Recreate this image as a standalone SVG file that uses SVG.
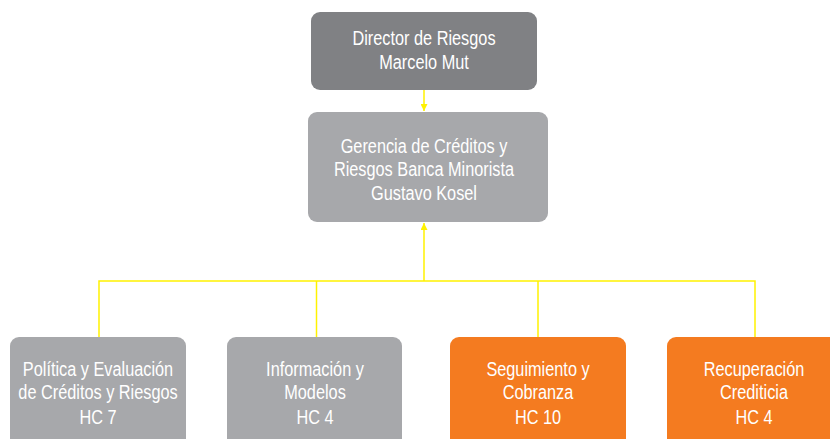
<svg xmlns="http://www.w3.org/2000/svg" width="830" height="439" viewBox="0 0 830 439">
<defs>
<style>
.t{font-family:"Liberation Sans",Arial,sans-serif;font-size:20px;fill:#ffffff;text-anchor:middle}
.c{stroke:#fff200;stroke-width:1.5;fill:none}
</style>
<marker id="ah" viewBox="0 0 10 10" refX="10" refY="5" markerWidth="7" markerHeight="7" markerUnits="userSpaceOnUse" orient="auto">
<path d="M0,0 L10,5 L0,10 Z" fill="#fff200"/>
</marker>
</defs>
<rect width="830" height="439" fill="#ffffff"/>
<g id="connectors">
<line class="c" x1="424" y1="90" x2="424" y2="111" marker-end="url(#ah)"/>
<line class="c" x1="424" y1="281" x2="424" y2="223" marker-end="url(#ah)"/>
<polyline class="c" points="99,337 99,281 755,281 755,337"/>
<line class="c" x1="316.5" y1="281" x2="316.5" y2="337"/>
<line class="c" x1="538" y1="281" x2="538" y2="337"/>
</g>
<g id="director">
<rect x="311" y="12" width="226" height="78" rx="9" fill="#808184"/>
<g transform="translate(424,0) scale(0.815,1)">
<text class="t" x="0" y="45">Director de Riesgos</text>
<text class="t" x="0" y="69">Marcelo Mut</text>
</g>
</g>
<g id="gerencia">
<rect x="308" y="112" width="240" height="110" rx="9" fill="#a7a8ab"/>
<g transform="translate(424,0) scale(0.815,1)">
<text class="t" x="0" y="153">Gerencia de Créditos y</text>
<text class="t" x="0" y="176">Riesgos Banca Minorista</text>
<text class="t" x="0" y="200">Gustavo Kosel</text>
</g>
</g>
<g id="politica">
<rect x="10" y="337" width="176" height="115" rx="9" fill="#a7a8ab"/>
<g transform="translate(98,0) scale(0.815,1)">
<text class="t" x="0" y="376">Política y Evaluación</text>
<text class="t" x="0" y="399">de Créditos y Riesgos</text>
<text class="t" x="0" y="424">HC 7</text>
</g>
</g>
<g id="informacion">
<rect x="227" y="337" width="175" height="115" rx="9" fill="#a7a8ab"/>
<g transform="translate(315,0) scale(0.815,1)">
<text class="t" x="0" y="376">Información y</text>
<text class="t" x="0" y="399">Modelos</text>
<text class="t" x="0" y="424">HC 4</text>
</g>
</g>
<g id="seguimiento">
<rect x="450" y="337" width="176" height="115" rx="9" fill="#f47b20"/>
<g transform="translate(538,0) scale(0.815,1)">
<text class="t" x="0" y="376">Seguimiento y</text>
<text class="t" x="0" y="399">Cobranza</text>
<text class="t" x="0" y="424">HC 10</text>
</g>
</g>
<g id="recuperacion">
<rect x="667" y="337" width="180" height="115" rx="9" fill="#f47b20"/>
<g transform="translate(754,0) scale(0.815,1)">
<text class="t" x="0" y="376">Recuperación</text>
<text class="t" x="0" y="399">Crediticia</text>
<text class="t" x="0" y="424">HC 4</text>
</g>
</g>
</svg>
